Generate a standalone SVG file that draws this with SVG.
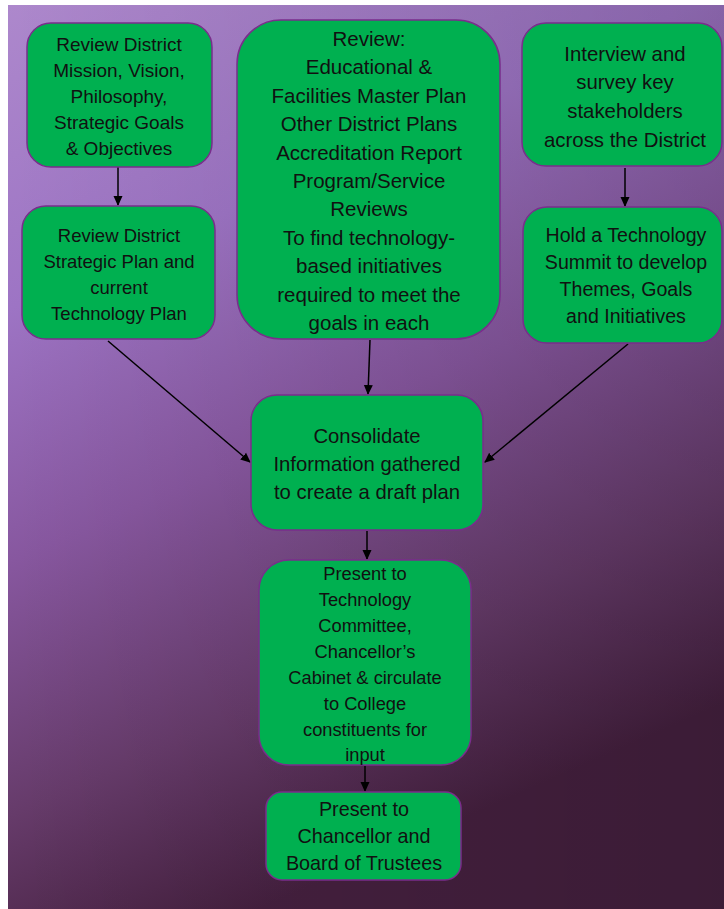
<svg xmlns="http://www.w3.org/2000/svg" width="724" height="909" viewBox="0 0 724 909">
<defs>
<linearGradient id="bg" x1="0" y1="0" x2="0.35" y2="1">
<stop offset="0" stop-color="#ad88cc"/>
<stop offset="0.3" stop-color="#9d74c4"/>
<stop offset="0.55" stop-color="#87579f"/>
<stop offset="0.8" stop-color="#663b6a"/>
<stop offset="1" stop-color="#45203f"/>
</linearGradient>
<linearGradient id="shade" x1="0" y1="0" x2="1" y2="0">
<stop offset="0" stop-color="#000" stop-opacity="0"/>
<stop offset="1" stop-color="#000" stop-opacity="0.14"/>
</linearGradient>
<marker id="ah" markerWidth="10" markerHeight="10" refX="9" refY="5" orient="auto" markerUnits="userSpaceOnUse">
<path d="M0,0.5 L10,5 L0,9.5 Z" fill="#000"/>
</marker>
</defs>
<style>
.box{fill:#00b050;stroke:#7a2d8c;stroke-width:1.5}
text{font-family:"Liberation Sans",Arial,sans-serif;fill:#111;text-anchor:middle}
.c{stroke:#000;stroke-width:1.5;fill:none;marker-end:url(#ah)}
</style>
<rect x="0" y="0" width="724" height="909" fill="#fff"/>
<rect x="8" y="5" width="716" height="904" fill="url(#bg)"/>
<rect x="8" y="5" width="716" height="904" fill="url(#shade)"/>

<g id="connectors">
<line class="c" x1="118" y1="167" x2="118" y2="205"/>
<line class="c" x1="625" y1="168" x2="625" y2="206"/>
<line class="c" x1="370" y1="340" x2="368" y2="394"/>
<line class="c" x1="108" y1="341" x2="250" y2="462"/>
<line class="c" x1="628" y1="344" x2="485" y2="462"/>
<line class="c" x1="367" y1="531" x2="367" y2="559"/>
<line class="c" x1="365" y1="766" x2="365" y2="791"/>
</g>

<g id="n1">
<rect class="box" x="27" y="23" width="185" height="144" rx="24"/>
<text font-size="19" x="119"><tspan x="119" y="51">Review District</tspan><tspan x="119" y="77">Mission, Vision,</tspan><tspan x="119" y="103">Philosophy,</tspan><tspan x="119" y="129">Strategic Goals</tspan><tspan x="119" y="155">&amp; Objectives</tspan></text>
</g>

<g id="n2">
<rect class="box" x="22" y="206" width="193" height="133" rx="24"/>
<text font-size="18.5" x="119"><tspan x="119" y="242">Review District</tspan><tspan x="119" y="268">Strategic Plan and</tspan><tspan x="119" y="294">current</tspan><tspan x="119" y="320">Technology Plan</tspan></text>
</g>

<g id="n3">
<rect class="box" x="237" y="20" width="263" height="319" rx="44"/>
<text font-size="20.5" x="369"><tspan x="369" y="46">Review:</tspan><tspan x="369" y="74">Educational &amp;</tspan><tspan x="369" y="103">Facilities Master Plan</tspan><tspan x="369" y="131">Other District Plans</tspan><tspan x="369" y="160">Accreditation Report</tspan><tspan x="369" y="188">Program/Service</tspan><tspan x="369" y="216">Reviews</tspan><tspan x="369" y="245">To find technology-</tspan><tspan x="369" y="273">based initiatives</tspan><tspan x="369" y="302">required to meet the</tspan><tspan x="369" y="330">goals in each</tspan></text>
</g>

<g id="n4">
<rect class="box" x="522" y="23" width="200" height="143" rx="24"/>
<text font-size="20.4" x="625"><tspan x="625" y="61">Interview and</tspan><tspan x="625" y="89">survey key</tspan><tspan x="625" y="118">stakeholders</tspan><tspan x="625" y="147">across the District</tspan></text>
</g>

<g id="n5">
<rect class="box" x="523" y="207" width="199" height="136" rx="24"/>
<text font-size="19.6" x="626"><tspan x="626" y="242">Hold a Technology</tspan><tspan x="626" y="269">Summit to develop</tspan><tspan x="626" y="296">Themes, Goals</tspan><tspan x="626" y="323">and Initiatives</tspan></text>
</g>

<g id="n6">
<rect class="box" x="251" y="395" width="232" height="135" rx="26"/>
<text font-size="20.3" x="367"><tspan x="367" y="443">Consolidate</tspan><tspan x="367" y="471">Information gathered</tspan><tspan x="367" y="499">to create a draft plan</tspan></text>
</g>

<g id="n7">
<rect class="box" x="259" y="560" width="212" height="205" rx="30"/>
<text font-size="18.3" x="365"><tspan x="365" y="580">Present to</tspan><tspan x="365" y="606">Technology</tspan><tspan x="365" y="632">Committee,</tspan><tspan x="365" y="658">Chancellor’s</tspan><tspan x="365" y="684">Cabinet &amp; circulate</tspan><tspan x="365" y="710">to College</tspan><tspan x="365" y="736">constituents for</tspan><tspan x="365" y="761">input</tspan></text>
</g>

<g id="n8">
<rect class="box" x="266" y="792" width="195" height="88" rx="16"/>
<text font-size="19.8" x="364"><tspan x="364" y="816">Present to</tspan><tspan x="364" y="843">Chancellor and</tspan><tspan x="364" y="870">Board of Trustees</tspan></text>
</g>
</svg>
